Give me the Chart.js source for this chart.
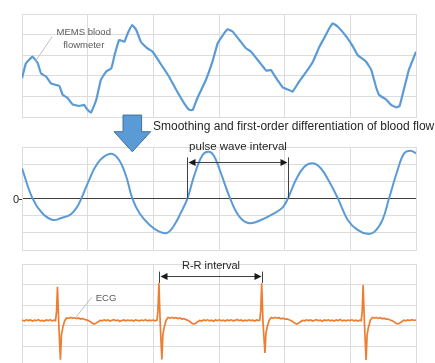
<!DOCTYPE html>
<html>
<head>
<meta charset="utf-8">
<script src="https://cdn.jsdelivr.net/npm/chart.js"></script>
<style>
  body { margin: 0; background: #fff; }
  #wrap { position: relative; width: 435px; height: 363px; overflow: hidden; }
  canvas { position: absolute; left: 0; }
</style>
</head>
<body>
<div id="wrap">
  <canvas id="flowChart" width="435" height="122" style="top:0px"></canvas>
  <canvas id="diffChart" width="435" height="146" style="top:108px"></canvas>
  <canvas id="ecgChart" width="435" height="118" style="top:254px"></canvas>
</div>
<script>
// time axis runs 0..600 (one grid column = 100)

// top panel: MEMS blood flowmeter
const flowT = [0, 6, 16, 24, 29, 37, 44, 52, 57, 62, 69, 77, 87, 95, 98, 105, 113, 120, 128, 136,
  141, 148, 156, 161, 168, 174, 181, 191, 199, 209, 224, 235, 247, 255, 260, 267, 280, 290, 298, 306,
  313, 321, 331, 341, 349, 359, 369, 372, 379, 384, 389, 397, 407, 412, 422, 433, 443, 453, 460, 468,
  473, 481, 494, 504, 511, 524, 532, 539, 544, 554, 562, 570, 575, 582, 589, 592, 600];
const flowV = [37.6, 52.1, 58.6, 52.1, 42.4, 39.1, 32.7, 31.1, 30.1, 21.4, 18.7, 12.3, 10.7, 11.7, 8.4, 4.2, 16.5, 35.9, 44.0, 47.3,
  60.2, 74.8, 73.1, 81.3, 89.3, 84.5, 73.1, 66.7, 63.4, 53.7, 39.1, 26.2, 13.3, 6.8, 6.8, 18.2, 35.9, 53.7, 71.6, 79.6,
  85.2, 82.8, 74.8, 66.7, 63.4, 55.3, 47.3, 45.0, 45.6, 40.8, 35.9, 28.8, 26.2, 24.6, 34.3, 44.0, 53.7, 68.3, 76.4, 86.1,
  91.0, 87.7, 78.0, 68.3, 60.2, 53.7, 45.6, 29.4, 21.4, 17.2, 11.7, 9.4, 10.7, 27.9, 45.6, 50.5, 63.4];

// middle panel: smoothed first-order derivative
const diffT = [0, 16, 31, 47, 59, 75, 87, 100, 115, 133, 146, 158, 168, 179, 194, 209, 222, 232, 242, 252,
  262, 275, 285, 293, 303, 316, 331, 346, 364, 384, 397, 405, 417, 430, 443, 455, 468, 481, 496, 511,
  526, 537, 549, 559, 572, 582, 592, 600];
const diffV = [1.76, 0.01, -0.86, -1.25, -1.15, -0.90, -0.28, 0.88, 2.05, 2.59, 2.34, 1.37, 0.01, -0.86, -1.53, -1.93, -1.99, -1.54, -0.82, 0.01,
  1.30, 2.53, 2.72, 2.43, 1.47, 0.10, -1.06, -1.44, -1.25, -0.86, -0.52, 0.01, 1.08, 1.85, 2.05, 1.76, 0.98, 0.01, -1.25, -1.83,
  -2.06, -1.93, -1.25, 0.01, 1.66, 2.63, 2.78, 2.63];

// bottom panel: ECG
const ecgT = [0, 4, 7, 10, 13, 16, 19, 22, 25, 28, 31, 34, 37, 40, 43, 46, 49, 51,
  52.5, 54, 56, 58.5, 60, 62, 65, 68, 71, 74, 77, 80, 83, 86, 89, 92, 95, 98, 101, 104, 107, 110, 113, 116, 119,
  122, 125, 128, 131, 134, 137, 140, 143, 146, 149, 152, 155, 158, 161, 164, 167, 170, 173, 176, 179, 182, 185,
  188, 191, 194, 197, 200, 203, 205.5,
  207, 208.5, 210.5, 213, 214.5, 216.5, 219.5, 222.5, 225.5, 228.5, 231.5, 234.5, 237.5, 240.5, 243.5, 246.5,
  249.5, 252.5, 255.5, 258.5, 261.5, 264.5, 267.5, 270.5, 273.5, 276.5, 279.5, 282.5, 285.5, 288.5, 291.5, 294.5,
  297.5, 300.5, 303.5, 306.5, 309.5, 312.5, 315.5, 318.5, 321.5, 324.5, 327.5, 330.5, 333.5, 336.5, 339.5, 342.5,
  345.5, 348.5, 351.5, 354.5, 357.5, 360.5, 362,
  363.5, 365, 367, 370, 371.5, 373.5, 376.5, 379.5, 382.5, 385.5, 388.5, 391.5, 394.5, 397.5, 400.5, 403.5,
  406.5, 409.5, 412.5, 415.5, 418.5, 421.5, 424.5, 427.5, 430.5, 433.5, 436.5, 439.5, 442.5, 445.5, 448.5, 451.5,
  454.5, 457.5, 460.5, 463.5, 466.5, 469.5, 472.5, 475.5, 478.5, 481.5, 484.5, 487.5, 490.5, 493.5, 496.5, 499.5,
  502.5, 505.5, 508.5, 511.5, 514.5, 516.5,
  518, 519.5, 521.5, 524, 525.5, 527.5, 530.5, 533.5, 536.5, 539.5, 542.5, 545.5, 548.5, 551.5, 554.5, 557.5,
  560.5, 563.5, 566.5, 569.5, 572.5, 575.5, 578.5, 581.5, 584.5, 587.5, 590.5, 593.5, 596.5, 600];
const ecgV = [2.27, 2.24, 2.29, 2.25, 2.28, 2.23, 2.27, 2.25, 2.30, 2.24, 2.26, 2.23, 2.28, 2.25, 2.29, 2.24, 2.27, 2.25,
  2.65, 3.90, 2.10, 0.35, 1.55, 1.90, 2.25, 2.38, 2.36, 2.41, 2.37, 2.39, 2.35, 2.38, 2.33, 2.36, 2.31, 2.29, 2.26, 2.20, 2.12, 2.08, 2.13, 2.20, 2.26,
  2.24, 2.29, 2.25, 2.28, 2.23, 2.27, 2.30, 2.25, 2.27, 2.22, 2.26, 2.29, 2.24, 2.28, 2.25, 2.27, 2.23, 2.29, 2.26, 2.24, 2.28, 2.25,
  2.30, 2.24, 2.27, 2.25, 2.28, 2.24, 2.27,
  2.70, 4.06, 2.10, 0.37, 1.55, 1.92, 2.27, 2.40, 2.37, 2.41, 2.36, 2.39, 2.35, 2.38, 2.33, 2.35,
  2.30, 2.27, 2.21, 2.13, 2.08, 2.12, 2.20, 2.26, 2.23, 2.28, 2.25, 2.29, 2.24, 2.27, 2.22, 2.28,
  2.25, 2.30, 2.24, 2.27, 2.23, 2.28, 2.25, 2.29, 2.24, 2.26, 2.31, 2.25, 2.28, 2.23, 2.27, 2.24,
  2.29, 2.25, 2.27, 2.23, 2.28, 2.25, 2.27,
  2.70, 4.06, 2.15, 0.68, 1.65, 1.95, 2.28, 2.40, 2.36, 2.41, 2.37, 2.39, 2.34, 2.37, 2.32, 2.34,
  2.29, 2.26, 2.20, 2.12, 2.08, 2.13, 2.21, 2.26, 2.24, 2.29, 2.25, 2.28, 2.23, 2.27, 2.30, 2.25,
  2.27, 2.22, 2.28, 2.25, 2.29, 2.24, 2.27, 2.23, 2.28, 2.25, 2.31, 2.24, 2.27, 2.24, 2.28, 2.25,
  2.29, 2.24, 2.27, 2.23, 2.27, 2.25,
  2.65, 3.98, 2.10, 0.34, 1.55, 1.92, 2.27, 2.40, 2.37, 2.41, 2.36, 2.39, 2.34, 2.37, 2.32, 2.33,
  2.28, 2.25, 2.19, 2.12, 2.09, 2.13, 2.21, 2.27, 2.24, 2.29, 2.26, 2.30, 2.27, 2.28];

// interval markers (x positions)
const pulseInterval = [252, 404.5];
const rrInterval = [208.5, 365];

const GRID = '#dcdcdc';
const BLUE = '#5B9BD5';
const ORANGE = '#ED7D31';
const TEXT = '#262626';
const CALLOUT = '#595959';
const FONT = 'Liberation Sans, Arial, sans-serif';

function seg(ctx, x1, y1, x2, y2) {
  ctx.beginPath();
  ctx.moveTo(x1, y1);
  ctx.lineTo(x2, y2);
  ctx.stroke();
}

function head(ctx, x, y, dir) {
  ctx.beginPath();
  ctx.moveTo(x, y);
  ctx.lineTo(x - dir * 7, y - 3.5);
  ctx.lineTo(x - dir * 7, y + 3.5);
  ctx.closePath();
  ctx.fill();
}

// double arrow between two x values with end bars
function interval(chart, xs, barTop, barBottom, arrowY, label, labelY, size) {
  const {ctx, scales: {x, y}} = chart;
  const x1 = Math.round(x.getPixelForValue(xs[0])) + 0.5;
  const x2 = Math.round(x.getPixelForValue(xs[1])) + 0.5;
  const ay = Math.round(y.getPixelForValue(arrowY)) + 0.5;
  ctx.save();
  ctx.strokeStyle = '#404040';
  ctx.fillStyle = '#1a1a1a';
  ctx.lineWidth = 1;
  seg(ctx, x1, y.getPixelForValue(barTop), x1, y.getPixelForValue(barBottom));
  seg(ctx, x2, y.getPixelForValue(barTop), x2, y.getPixelForValue(barBottom));
  seg(ctx, x1 + 4, ay, x2 - 4, ay);
  head(ctx, x1 + 1, ay, -1);
  head(ctx, x2 - 1, ay, 1);
  ctx.font = size + 'px ' + FONT;
  ctx.fillStyle = TEXT;
  ctx.textAlign = 'center';
  ctx.textBaseline = 'middle';
  ctx.fillText(label, (x1 + x2) / 2, y.getPixelForValue(labelY));
  ctx.restore();
}

function makeChart(id, xs, ys, color, width, tension, yMin, yMax, yStep, pad, decor) {
  return new Chart(document.getElementById(id), {
    type: 'line',
    data: {
      datasets: [{
        data: xs.map((t, i) => ({x: t, y: ys[i]})),
        borderColor: color,
        borderWidth: width,
        pointRadius: 0,
        tension: tension,
        fill: false
      }]
    },
    options: {
      responsive: false,
      animation: false,
      layout: {padding: pad},
      plugins: {legend: {display: false}, tooltip: {enabled: false}},
      scales: {
        x: {
          type: 'linear', min: 0, max: 600,
          ticks: {display: false, stepSize: 100},
          grid: {color: GRID, drawTicks: false},
          border: {color: GRID},
          afterFit: s => { s.height = 0; }
        },
        y: {
          min: yMin, max: yMax,
          ticks: {display: false, stepSize: yStep},
          grid: {color: c => (id === 'diffChart' && c.tick && c.tick.value === 0) ? '#404040' : GRID, drawTicks: false},
          border: {color: GRID},
          afterFit: s => { s.width = 0; }
        }
      }
    },
    plugins: [{id: 'decor', afterDraw: decor}]
  });
}

makeChart('flowChart', flowT, flowV, BLUE, 2.2, 0.1, 0, 100, 20,
  {left: 22, right: 19, top: 14, bottom: 5},
  chart => {
    const {ctx, scales: {x, y}} = chart;
    ctx.save();
    ctx.strokeStyle = '#bfbfbf';
    ctx.lineWidth = 1;
    seg(ctx, x.getPixelForValue(20), y.getPixelForValue(53.7), x.getPixelForValue(46), y.getPixelForValue(78));
    ctx.font = '9.5px ' + FONT;
    ctx.fillStyle = CALLOUT;
    ctx.textAlign = 'center';
    ctx.textBaseline = 'middle';
    ctx.fillText('MEMS blood', x.getPixelForValue(94), y.getPixelForValue(82.2));
    ctx.fillText('flowmeter', x.getPixelForValue(94), y.getPixelForValue(69.9));
    ctx.restore();
  });

makeChart('diffChart', diffT, diffV, BLUE, 2, 0.4, -3, 3, 1,
  {left: 22, right: 19, top: 39, bottom: 4},
  chart => {
    const {ctx, scales: {x, y}} = chart;
    ctx.save();
    // big down arrow between panels
    const cx = x.getPixelForValue(168);
    const yTop = y.getPixelForValue(4.86), yNeck = y.getPixelForValue(3.89), yTip = y.getPixelForValue(2.72);
    ctx.beginPath();
    ctx.moveTo(cx - 9.3, yTop);
    ctx.lineTo(cx + 9.3, yTop);
    ctx.lineTo(cx + 9.3, yNeck);
    ctx.lineTo(cx + 18.3, yNeck);
    ctx.lineTo(cx, yTip);
    ctx.lineTo(cx - 18.3, yNeck);
    ctx.lineTo(cx - 9.3, yNeck);
    ctx.closePath();
    ctx.fillStyle = BLUE;
    ctx.fill();
    ctx.strokeStyle = '#41719C';
    ctx.lineWidth = 1;
    ctx.stroke();
    // heading
    ctx.font = '12px ' + FONT;
    ctx.fillStyle = TEXT;
    ctx.textAlign = 'left';
    ctx.textBaseline = 'middle';
    ctx.fillText('Smoothing and first-order differentiation of blood flow', x.getPixelForValue(199.5), y.getPixelForValue(4.16));
    // zero label and tick
    const y0 = Math.round(y.getPixelForValue(0)) + 0.5;
    ctx.strokeStyle = '#404040';
    seg(ctx, chart.chartArea.left - 3, y0, chart.chartArea.left, y0);
    ctx.font = '11px ' + FONT;
    ctx.textAlign = 'right';
    ctx.fillText('0', chart.chartArea.left - 3, y0);
    ctx.restore();
    interval(chart, pulseInterval, 2.4, 0, 2.14, 'pulse wave interval', 3.03, 11.5);
  });

makeChart('ecgChart', ecgT, ecgV, ORANGE, 1.7, 0, 0, 5, 1,
  {left: 22, right: 19, top: 10, bottom: 5},
  chart => {
    const {ctx, scales: {x, y}} = chart;
    ctx.save();
    ctx.strokeStyle = '#bfbfbf';
    ctx.lineWidth = 1;
    seg(ctx, x.getPixelForValue(80.7), y.getPixelForValue(2.36), x.getPixelForValue(106), y.getPixelForValue(3.38));
    ctx.font = '9.5px ' + FONT;
    ctx.fillStyle = CALLOUT;
    ctx.textAlign = 'center';
    ctx.textBaseline = 'middle';
    ctx.fillText('ECG', x.getPixelForValue(128), y.getPixelForValue(3.33));
    ctx.restore();
    interval(chart, rrInterval, 4.63, 4.08, 4.42, 'R-R interval', 4.9, 11);
  });
</script>
</body>
</html>
